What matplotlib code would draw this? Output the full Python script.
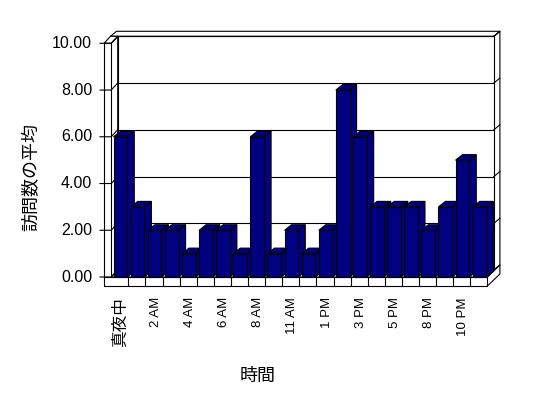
import matplotlib
matplotlib.use('Agg')
import matplotlib.pyplot as plt
from matplotlib.patches import Polygon, Rectangle

# ---- data ----
categories = ['真夜中', '1 AM', '2 AM', '3 AM', '4 AM', '5 AM', '6 AM', '7 AM',
              '8 AM', '9 AM', '11 AM', '12 PM', '1 PM', '2 PM', '3 PM', '4 PM',
              '5 PM', '6 PM', '8 PM', '9 PM', '10 PM', '11 PM']
values = [6, 3, 2, 2, 1, 2, 2, 1, 6, 1, 2, 1, 2, 8, 6, 3, 3, 3, 2, 3, 5, 3]
yticks = [0, 2, 4, 6, 8, 10]
ytick_labels = ['0.00', '2.00', '4.00', '6.00', '8.00', '10.00']
ylabel = '訪問数の平均'
xlabel = '時間'

# ---- layout (pixel geometry of the 3D frame) ----
W, H = 548, 398
X0, CW, Y0, VH = 111.2, 17.1, 277.0, 23.37   # front plane origin / scale

def px(x):
    return (x - X0) / CW

def py(y):
    return (Y0 - y) / VH

fig = plt.figure(figsize=(W / 100, H / 100), dpi=100)
ax = fig.add_axes([0, 0, 1, 1])
ax.set_xlim(px(0), px(W))
ax.set_ylim(py(H), py(0))
ax.axis('off')

n = len(values)
ymax = yticks[-1]
lw = 0.8
navy = '#000080'

dxw, dyw = 6.5 / CW, 7.0 / VH      # wall depth
dxt, dyt = 6.0 / CW, 5.0 / VH      # wall thickness
dxb, dyb = 7.0 / CW, 5.5 / VH      # bar depth
wl = px(104)                       # left wall front-left edge
fb = py(286)                       # floor bottom

def poly(pts, fc='white', z=1):
    ax.add_patch(Polygon(pts, closed=True, facecolor=fc, edgecolor='black',
                         linewidth=lw, zorder=z, joinstyle='miter'))

# back wall top & right side
poly([(wl + dxw, ymax + dyw), (n + dxw, ymax + dyw),
      (n + dxw + dxt, ymax + dyw + dyt), (wl + dxw + dxt, ymax + dyw + dyt)])
poly([(n + dxw, dyw), (n + dxw, ymax + dyw),
      (n + dxw + dxt, ymax + dyw + dyt), (n + dxw + dxt, dyw + dyt)])
# floor right side
poly([(n, fb), (n, 0), (n + dxw + dxt, dyw + dyt), (n + dxw + dxt, fb + dyw + dyt)])
# back wall face
ax.add_patch(Rectangle((dxw, dyw), n, ymax, facecolor='white', edgecolor='black',
                       linewidth=lw, zorder=1))
# floor top
poly([(wl, 0), (n, 0), (n + dxw, dyw), (wl + dxw, dyw)], z=1.5)
# left wall inner side, top, front
poly([(0, 0), (0, ymax), (dxw, ymax + dyw), (dxw, dyw)], z=2)
poly([(wl, ymax), (0, ymax), (dxw, ymax + dyw), (wl + dxw, ymax + dyw)], z=2)
ax.add_patch(Rectangle((wl, 0), -wl, ymax, facecolor='white', edgecolor='black',
                       linewidth=lw, zorder=2))
# floor front
ax.add_patch(Rectangle((wl, fb), n - wl, -fb, facecolor='white', edgecolor='black',
                       linewidth=lw, zorder=2))
ax.vlines(range(1, n), fb, 0, colors='black', linewidth=lw, zorder=2.5)

# gridlines and ticks
for v in yticks:
    ax.plot([dxw, n + dxw], [v + dyw, v + dyw], color='black', lw=lw, zorder=1.2)
    ax.plot([px(100), 0, dxw], [v, v, v + dyw], color='black', lw=lw, zorder=2.6)
    ax.plot([n + dxw, n + dxw + dxt], [v + dyw, v + dyw + dyt], color='black',
            lw=lw, zorder=1.2)

# bars
bl, br = 0.14, 0.94
bars = ax.bar([i + bl for i in range(n)], values, width=br - bl, align='edge',
              color=navy, edgecolor='black', linewidth=lw)
for i, (b, v) in enumerate(zip(bars, values)):
    z = 10 + 3 * i
    b.set_zorder(z + 2)
    poly([(i + br, 0), (i + br, v), (i + br + dxb, v + dyb), (i + br + dxb, dyb)],
         fc=navy, z=z)
    poly([(i + bl, v), (i + br, v), (i + br + dxb, v + dyb), (i + bl + dxb, v + dyb)],
         fc=navy, z=z + 1)

# tick labels
for v, lab in zip(yticks, ytick_labels):
    ax.text(px(92), v, lab, ha='right', va='center', fontsize=11.5,
            family='Liberation Sans')
for i, lab in enumerate(categories):
    if i % 2:
        continue
    if lab.isascii():
        ax.text(i + 0.6, py(297), lab, rotation=90, ha='center', va='top',
                fontsize=9.5, family='Liberation Sans')
    else:
        ax.text(i + 0.55, py(297), lab, rotation=90, ha='center', va='top',
                fontsize=12, family=['Noto Sans CJK JP', 'DejaVu Sans'])

ax.text(px(31), py(177), ylabel, rotation=90, ha='center', va='center',
        fontsize=13, family=['Noto Sans CJK JP', 'DejaVu Sans'])
ax.text(px(258), py(376), xlabel, ha='center', va='center',
        fontsize=13, family=['Noto Sans CJK JP', 'DejaVu Sans'])

fig.savefig('out.png', dpi=100, facecolor='white')
